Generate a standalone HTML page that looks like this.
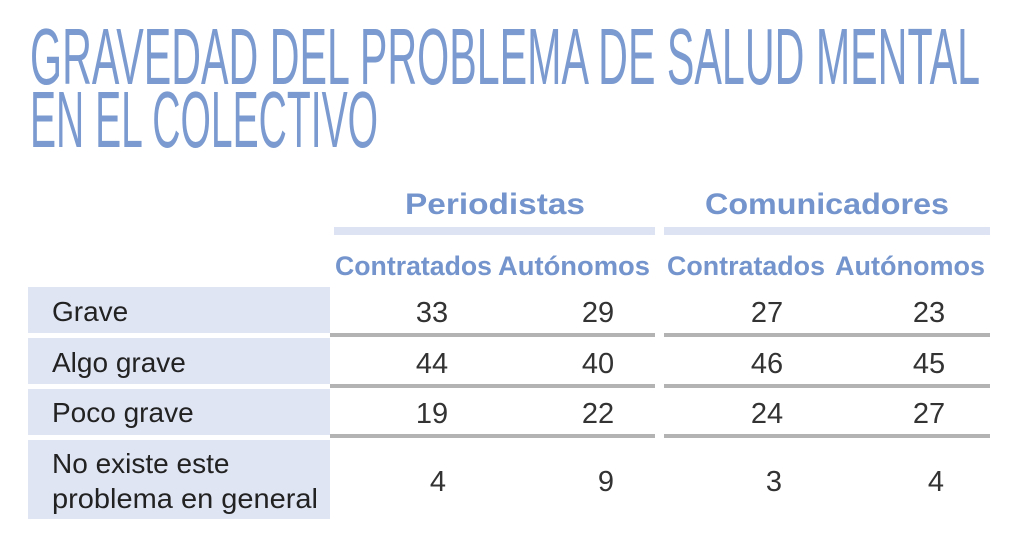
<!DOCTYPE html>
<html><head><meta charset="utf-8"><style>html,body{margin:0;padding:0;background:#fff}</style></head>
<body>
<svg width="1024" height="543" viewBox="0 0 1024 543" xmlns="http://www.w3.org/2000/svg" font-family="Liberation Sans, sans-serif">
<rect width="1024" height="543" fill="#fff"/>
<g fill="#7b9bd0" font-size="80">
<text x="30" y="84" textLength="950" lengthAdjust="spacingAndGlyphs">GRAVEDAD DEL PROBLEMA DE SALUD MENTAL</text>
<text x="30" y="147" textLength="348" lengthAdjust="spacingAndGlyphs">EN EL COLECTIVO</text>
</g>
<g fill="#7394cc" font-weight="bold">
<text x="495" y="214" font-size="30" text-anchor="middle" textLength="180" lengthAdjust="spacingAndGlyphs">Periodistas</text>
<text x="827" y="214" font-size="30" text-anchor="middle" textLength="244" lengthAdjust="spacingAndGlyphs">Comunicadores</text>
<g font-size="27">
<text x="335" y="275" textLength="157" lengthAdjust="spacingAndGlyphs">Contratados</text>
<text x="498" y="275" textLength="152" lengthAdjust="spacingAndGlyphs">Autónomos</text>
<text x="667" y="275" textLength="158" lengthAdjust="spacingAndGlyphs">Contratados</text>
<text x="835" y="275" textLength="150" lengthAdjust="spacingAndGlyphs">Autónomos</text>
</g>
</g>
<rect x="334" y="227" width="321" height="8" fill="#dde3f3"/>
<rect x="664" y="227" width="326" height="8" fill="#dde3f3"/>
<g fill="#e0e5f4">
<rect x="28" y="287" width="302" height="46"/>
<rect x="28" y="338" width="302" height="46"/>
<rect x="28" y="389" width="302" height="46"/>
<rect x="28" y="440" width="302" height="79"/>
</g>
<g fill="#b3b3b3">
<rect x="330" y="333" width="325" height="4"/><rect x="664" y="333" width="326" height="4"/>
<rect x="330" y="384" width="325" height="4"/><rect x="664" y="384" width="326" height="4"/>
<rect x="330" y="434" width="325" height="4"/><rect x="664" y="434" width="326" height="4"/>
</g>
<g fill="#222" font-size="28">
<text x="52" y="321">Grave</text>
<text x="52" y="372">Algo grave</text>
<text x="52" y="422">Poco grave</text>
<text x="52" y="473">No existe este</text>
<text x="52" y="508" textLength="266" lengthAdjust="spacingAndGlyphs">problema en general</text>
</g>
<g fill="#333" font-size="29" text-anchor="middle">
<text x="432" y="322">33</text><text x="598" y="322">29</text><text x="767" y="322">27</text><text x="929" y="322">23</text>
<text x="432" y="373">44</text><text x="598" y="373">40</text><text x="767" y="373">46</text><text x="929" y="373">45</text>
<text x="432" y="423">19</text><text x="598" y="423">22</text><text x="767" y="423">24</text><text x="929" y="423">27</text>
<text x="438" y="491">4</text><text x="606" y="491">9</text><text x="774" y="491">3</text><text x="936" y="491">4</text>
</g>
</svg>
</body></html>
